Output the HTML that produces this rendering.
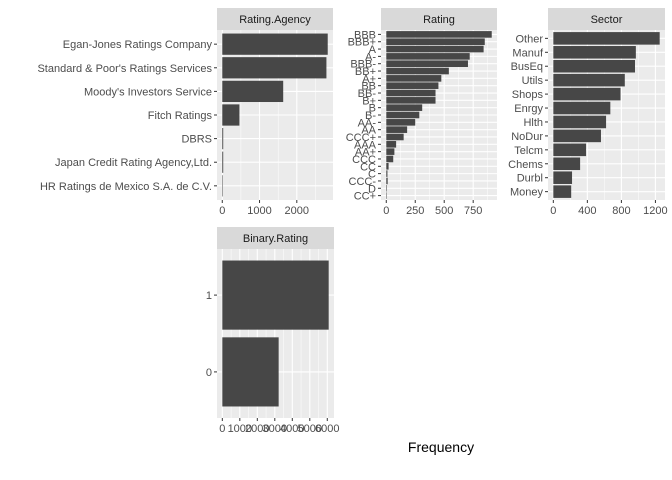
<!DOCTYPE html>
<html><head><meta charset="utf-8"><style>
body{margin:0;background:#fff;}
svg{display:block;font-family:"Liberation Sans",Arial,sans-serif;}
</style></head><body>
<svg id="c" width="672" height="480"></svg>
<script>
const agencyCats=["Egan-Jones Ratings Company","Standard & Poor's Ratings Services","Moody's Investors Service","Fitch Ratings","DBRS","Japan Credit Rating Agency,Ltd.","HR Ratings de Mexico S.A. de C.V."];
const agencyVals=[2830,2795,1635,460,25,25,8];
const agencyTicks=[0,1000,2000];
const ratingCats=["BBB","BBB+","A","A-","BBB-","BB+","A+","BB","BB-","B+","B","B-","AA-","AA","CCC+","AAA","AA+","CCC","CC","C","CCC-","D","CC+"];
const ratingVals=[910,850,840,720,705,540,475,450,425,425,310,285,250,180,150,85,70,60,20,10,12,5,3];
const ratingTicks=[0,250,500,750];
const sectorCats=["Other","Manuf","BusEq","Utils","Shops","Enrgy","Hlth","NoDur","Telcm","Chems","Durbl","Money"];
const sectorVals=[1250,970,960,840,790,670,620,560,385,315,220,210];
const sectorTicks=[0,400,800,1200];
const binaryCats=["1","0"];
const binaryVals=[6080,3220];
const binaryTicks=[0,1000,2000,3000,4000,5000,6000];

const NS="http://www.w3.org/2000/svg";
const svg=document.getElementById('c');
function mk(tag,attrs,parent){const e=document.createElementNS(NS,tag);for(const k in attrs)e.setAttribute(k,attrs[k]);(parent||svg).appendChild(e);return e;}

function panel(name,title,cats,vals,ticks,box){
  const g=mk('g',{});
  
  
  const {x0,x1,y0,y1,st}=box;
  const maxV=Math.max(...vals);
  const range=maxV*1.1;
  const k=(x1-x0)/range;
  const xs=v=>x0+(v+maxV*0.05)*k;
  const n=cats.length;
  const step=(y1-y0)/(n-1+1.2);
  const ys=i=>y0+(0.6+i)*step;
  mk('rect',{x:x0,y:y0,width:x1-x0,height:y1-y0,fill:'#EBEBEB'},g);
  const strip=mk('rect',{x:x0,y:st,width:x1-x0,height:y0-st,fill:'#D9D9D9'},g);
  
  
  const stt=mk('text',{x:(x0+x1)/2,y:(st+y0)/2+4,'text-anchor':'middle','font-size':'11',fill:'#1A1A1A'},g);
  stt.textContent=title;
  
  
  const stepT=ticks[1]-ticks[0];
  for(let t=ticks[0]-stepT/2;t<=maxV*1.05;t+=stepT){if(xs(t)>=x0&&xs(t)<=x1)mk('line',{x1:xs(t),x2:xs(t),y1:y0,y2:y1,stroke:'#fff','stroke-width':0.5},g);}
  ticks.forEach(t=>{
    mk('line',{x1:xs(t),x2:xs(t),y1:y0,y2:y1,stroke:'#fff','stroke-width':1.1},g);
    mk('line',{x1:xs(t),x2:xs(t),y1:y1,y2:y1+3,stroke:'#333','stroke-width':1},g);
    const tl=mk('text',{x:xs(t),y:y1+14,'text-anchor':'middle','font-size':'11',fill:'#4D4D4D'},g);
    tl.textContent=t;
    
    
  });
  cats.forEach((c,i)=>{
    mk('line',{x1:x0,x2:x1,y1:ys(i),y2:ys(i),stroke:'#fff','stroke-width':1.1},g);
    mk('line',{x1:x0-3,x2:x0,y1:ys(i),y2:ys(i),stroke:'#333','stroke-width':1},g);
    const tl=mk('text',{x:x0-5,y:ys(i)+4,'text-anchor':'end','font-size':'11',fill:'#4D4D4D'},g);
    tl.textContent=c;
    
    
  });
  cats.forEach((c,i)=>{
    const b=mk('rect',{x:xs(0),y:ys(i)-step*0.45,width:Math.max(0.5,xs(vals[i])-xs(0)),height:step*0.9,fill:'#474747'},g);
    
    
  });
}
panel('rating-agency','Rating.Agency',agencyCats,agencyVals,agencyTicks,{x0:217,x1:333,y0:30,y1:200,st:8});
panel('rating','Rating',ratingCats,ratingVals,ratingTicks,{x0:381,x1:497,y0:30,y1:200,st:8});
panel('sector','Sector',sectorCats,sectorVals,sectorTicks,{x0:548,x1:665,y0:30,y1:200,st:8});
panel('binary-rating','Binary.Rating',binaryCats,binaryVals,binaryTicks,{x0:217,x1:334,y0:249,y1:418,st:227});
const xt=mk('text',{x:441,y:452,'text-anchor':'middle','font-size':'14',fill:'#000'});
xt.textContent='Frequency';


</script>
</body></html>
